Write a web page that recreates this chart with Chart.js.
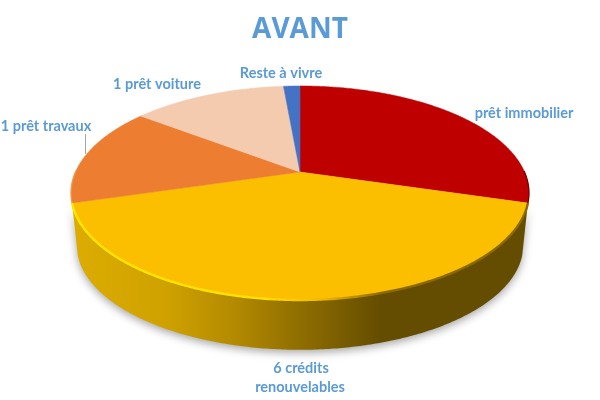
<!DOCTYPE html>
<html>
<head>
<meta charset="utf-8">
<style>
  html, body { margin: 0; padding: 0; background: #fff; }
  #wrap { width: 600px; height: 400px; }
</style>
<script src="https://cdn.jsdelivr.net/npm/chart.js@4/dist/chart.umd.min.js"></script>
</head>
<body>
<div id="wrap"><canvas id="pie"></canvas></div>
<script>
const categories = ['prêt immobilier', '6 crédits renouvelables', '1 prêt travaux', '1 prêt voiture', 'Reste à vivre'];
const shares = [29.6, 40.8, 15, 13.2, 1.4];
const sliceColors = ['#BE0000', '#FBBF00', '#EC7D31', '#F4CBAF', '#4472C4'];
const titleText = 'AVANT';

// perspective of the tilted disc: maps an angle on the pie to the screen
const apexX = 300, apexY = 172, radX = 224.5, radY = 102.9, tilt = -0.196;
const depth = 53, bottomScale = 0.975;

function project(t, scale, dy) {
  const w = 1 + tilt * Math.sin(t);
  return {
    x: apexX + scale * radX * Math.cos(t) / w,
    y: apexY + dy + scale * radY * Math.sin(t) / w
  };
}

function traceEdge(ctx, from, to, scale, dy) {
  const steps = Math.max(2, Math.ceil(Math.abs(to - from) / 0.01));
  for (let i = 0; i <= steps; i++) {
    const p = project(from + (to - from) * i / steps, scale, dy);
    ctx.lineTo(p.x, p.y);
  }
}

function drawSide(ctx, arc) {
  const from = arc.startAngle, to = arc.endAngle;

  ctx.save();
  ctx.shadowColor = 'rgba(0,0,0,.35)';
  ctx.shadowBlur = 9;
  ctx.shadowOffsetY = 3;
  const side = ctx.createLinearGradient(72, 0, 528, 0);
  side.addColorStop(0, '#DCAC00');
  side.addColorStop(0.2, '#D0A200');
  side.addColorStop(0.35, '#B58B00');
  side.addColorStop(0.52, '#8A6A00');
  side.addColorStop(0.68, '#644C00');
  side.addColorStop(1, '#644C00');
  ctx.fillStyle = side;
  ctx.beginPath();
  traceEdge(ctx, from, to, 1, 0);
  traceEdge(ctx, to, from, bottomScale, depth);
  ctx.closePath();
  ctx.fill();
  ctx.restore();
}

function drawTop(ctx, arc, color) {
  ctx.fillStyle = color;
  ctx.strokeStyle = color;
  ctx.lineWidth = 0.5;
  ctx.beginPath();
  ctx.moveTo(apexX, apexY);
  traceEdge(ctx, arc.startAngle, arc.endAngle, 1, 0);
  ctx.closePath();
  ctx.fill();
  ctx.stroke();
}

function strokeRim(ctx, from, to, style, width) {
  ctx.strokeStyle = style;
  ctx.lineWidth = width;
  ctx.beginPath();
  traceEdge(ctx, from, to, 1, 0);
  ctx.stroke();
}

function drawLabels(ctx) {
  ctx.fillStyle = '#5B9BD5';
  ctx.font = 'bold 14.5px Lato';
  ctx.textAlign = 'center';
  ctx.textBaseline = 'middle';
  ctx.fillText(categories[0], 524, 113);
  ctx.fillText('6 crédits', 301, 368);
  ctx.fillText('renouvelables', 300, 387);
  ctx.fillText(categories[2], 46, 126);
  ctx.fillText(categories[3], 157, 84);
  ctx.fillText(categories[4], 281, 73);

  // leader line of the small label
  ctx.strokeStyle = '#A6A6A6';
  ctx.lineWidth = 1;
  ctx.beginPath();
  ctx.moveTo(85.5, 134);
  ctx.lineTo(85.5, 154);
  ctx.stroke();
}

const pie3d = {
  id: 'pie3d',
  beforeDatasetsDraw(chart) {
    const ctx = chart.ctx;
    const arcs = chart.getDatasetMeta(0).data;
    const yellow = arcs[1];

    ctx.save();
    drawSide(ctx, yellow);
    arcs.forEach((arc, i) => drawTop(ctx, arc, sliceColors[i]));

    // lit and shaded edges of the disc
    const rim = ctx.createLinearGradient(72, 0, 528, 0);
    rim.addColorStop(0, '#FFE600');
    rim.addColorStop(0.42, '#FFE000');
    rim.addColorStop(0.55, '#F0B800');
    rim.addColorStop(0.68, '#8A6A00');
    rim.addColorStop(1, '#8A6A00');
    strokeRim(ctx, yellow.startAngle, yellow.endAngle, rim, 2.4);
    strokeRim(ctx, arcs[0].endAngle - 0.3, arcs[0].endAngle, '#6E0000', 1.2);
    strokeRim(ctx, arcs[2].startAngle, arcs[2].startAngle + 0.3, '#F79646', 1.2);

    drawLabels(ctx);
    ctx.restore();
    return false;
  }
};

new Chart(document.getElementById('pie'), {
  type: 'pie',
  data: {
    labels: categories,
    datasets: [{ data: shares, backgroundColor: sliceColors, borderWidth: 0 }]
  },
  options: {
    responsive: true,
    maintainAspectRatio: false,
    animation: false,
    plugins: {
      legend: { display: false },
      tooltip: { enabled: false },
      title: {
        display: true,
        text: titleText,
        color: '#5B9BD5',
        font: { family: 'Open Sans', size: 28, weight: 'bold' },
        padding: { top: 13, bottom: 6 }
      }
    }
  },
  plugins: [pie3d]
});
</script>
</body>
</html>
